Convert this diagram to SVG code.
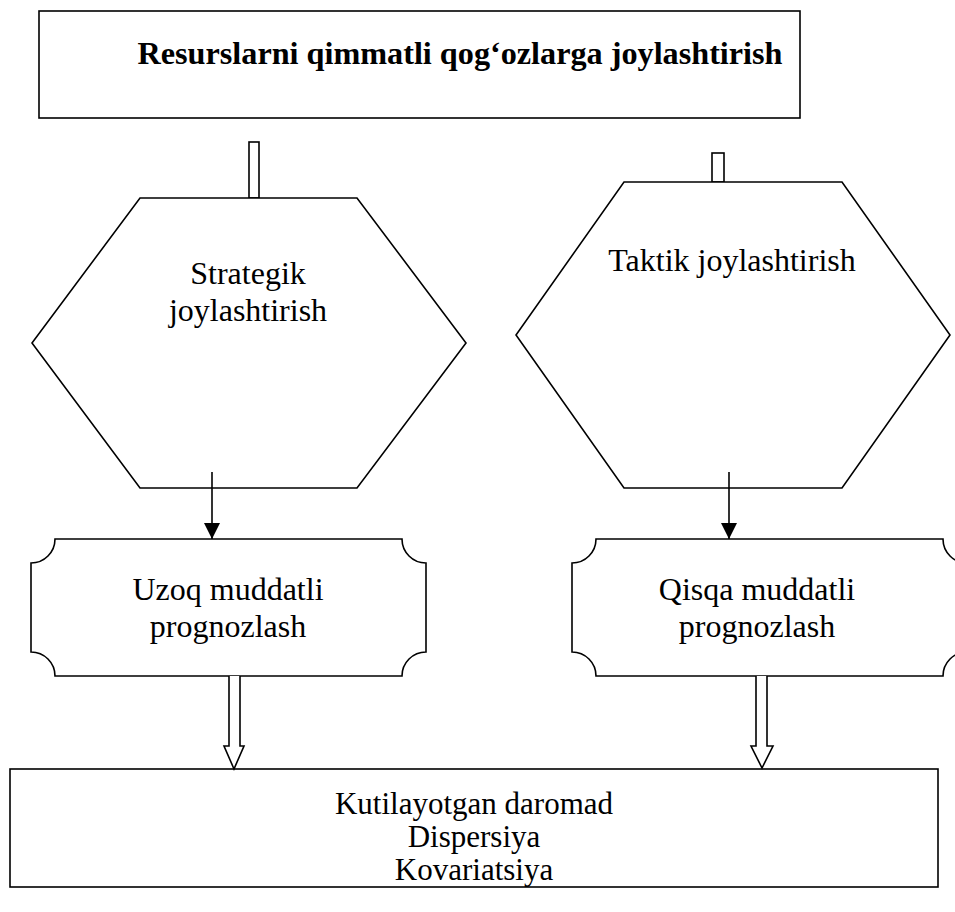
<svg xmlns="http://www.w3.org/2000/svg" width="955" height="912" viewBox="0 0 955 912">
<style>
.s{fill:#fff;stroke:#000;stroke-width:1.6}
.t{font-family:"Liberation Serif","Times New Roman",serif;font-size:32px;fill:#000;text-anchor:middle}
.r{font-size:31px}
.b{font-weight:bold}
.c{fill:none;stroke:#000;stroke-width:1.6}
</style>
<defs>
<marker id="ah" markerWidth="16" markerHeight="16" viewBox="0 0 16 16" refX="16" refY="8" orient="auto" markerUnits="userSpaceOnUse">
<path d="M0,0 L16,8 L0,16 Z" fill="#000"/>
</marker>
</defs>
<rect width="955" height="912" fill="#fff"/>
<g id="connectors">
<rect class="s" x="249" y="142" width="10" height="56"/>
<rect class="s" x="712" y="153" width="12" height="29"/>
</g>
<g id="top">
<rect class="s" x="39" y="11" width="761" height="107" stroke-width="2"/>
<text class="t b" x="460" y="64" textLength="645" lengthAdjust="spacingAndGlyphs">Resurslarni qimmatli qogʻozlarga joylashtirish</text>
</g>
<g id="strategik">
<polygon class="s" points="140,198 357,198 466,343 357,488 140,488 32,343"/>
<text class="t" x="248" y="284">Strategik</text>
<text class="t" x="248" y="321">joylashtirish</text>
</g>
<g id="taktik">
<polygon class="s" points="624,182 842,182 950,335 842,488 624,488 516,335"/>
<text class="t" x="732" y="271">Taktik joylashtirish</text>
</g>
<g id="uzoq">
<path class="s" d="M55,539 L402,539 A24,24 0 0 0 426,563 L426,652 A24,24 0 0 0 402,676 L55,676 A24,24 0 0 0 31,652 L31,563 A24,24 0 0 0 55,539 Z"/>
<text class="t" x="228" y="600">Uzoq muddatli</text>
<text class="t" x="228" y="637">prognozlash</text>
</g>
<g id="qisqa">
<path class="s" d="M596,539 L943,539 A24,24 0 0 0 967,563 L967,652 A24,24 0 0 0 943,676 L596,676 A24,24 0 0 0 572,652 L572,563 A24,24 0 0 0 596,539 Z"/>
<text class="t" x="757" y="600">Qisqa muddatli</text>
<text class="t" x="757" y="637">prognozlash</text>
</g>
<g id="result">
<rect class="s" x="10" y="769" width="928" height="118"/>
<text class="t r" x="474" y="814">Kutilayotgan daromad</text>
<text class="t r" x="474" y="847">Dispersiya</text>
<text class="t r" x="474" y="880">Kovariatsiya</text>
</g>
<g id="arrows">
<line class="c" x1="212" y1="472" x2="212" y2="539" marker-end="url(#ah)"/>
<line class="c" x1="729" y1="472" x2="729" y2="539" marker-end="url(#ah)"/>
<path class="s" d="M229,676 L229,746 L224,746 L234,769 L244,746 L240,746 L240,676"/>
<path class="s" d="M756,676 L756,746 L751,746 L762,768 L773,746 L767,746 L767,676"/>
</g>
</svg>
